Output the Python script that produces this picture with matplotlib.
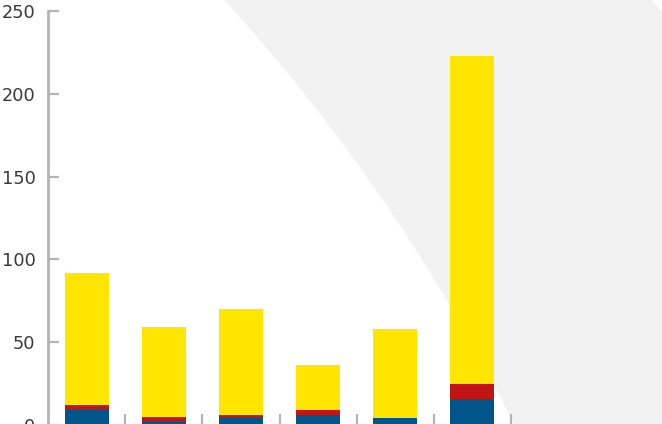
import numpy as np
import matplotlib
matplotlib.use('Agg')
import matplotlib.pyplot as plt
from matplotlib.patches import Circle, Polygon

# Valores (apilados: azul, rojo, amarillo)
categorias = ['A', 'B', 'C', 'D', 'E', 'F']
azul = [9, 2, 4, 6, 4, 16]
rojo = [3, 3, 2, 3, 0, 9]
amarillo = [80, 54, 64, 27, 54, 198]
yticks = [0, 50, 100, 150, 200, 250]

col_azul = '#00558b'
col_rojo = '#c11414'
col_amarillo = '#ffe500'
col_gris = '#b4b4b4'

W, H = 662, 424
fig = plt.figure(figsize=(W / 100, H / 100), dpi=100)
fig.patch.set_facecolor('#f2f2f2')

# fondo decorativo: circulo blanco grande a la izquierda
bg = fig.add_axes([0, 0, 1, 1], zorder=0)
bg.set_xlim(0, W)
bg.set_ylim(H, 0)
bg.axis('off')
bg.add_patch(Circle((-1116, 1227), 1817, color='white', lw=0))
bg.add_patch(Polygon([[652, 0], [663, 0], [663, 13]], closed=True, color='white', lw=0))

ax = fig.add_axes([48 / W, -1 / H, 463 / W, 414 / H], zorder=1)
ax.patch.set_visible(False)

x = np.arange(len(categorias)) + 0.5
ancho = 0.57
ax.bar(x, azul, ancho, color=col_azul, lw=0)
ax.bar(x, rojo, ancho, bottom=azul, color=col_rojo, lw=0)
base = np.array(azul) + np.array(rojo)
ax.bar(x, amarillo, ancho, bottom=base, color=col_amarillo, lw=0)

ax.set_xlim(0, len(categorias))
ax.set_ylim(0, 250)
ax.set_yticks(yticks)
ax.set_xticks(np.arange(1, len(categorias) + 1))
ax.set_xticklabels([])

for s in ['top', 'right', 'bottom']:
    ax.spines[s].set_visible(False)
ax.spines['left'].set_color(col_gris)
ax.spines['left'].set_linewidth(2)

ax.tick_params(axis='y', direction='in', length=8, width=1.6, color=col_gris,
               labelsize=12.8, labelcolor='#3a3a3a', pad=9)
ax.tick_params(axis='x', direction='in', length=8, width=1.6, color=col_gris)

fig.savefig('out.png', dpi=100, facecolor=fig.get_facecolor())
